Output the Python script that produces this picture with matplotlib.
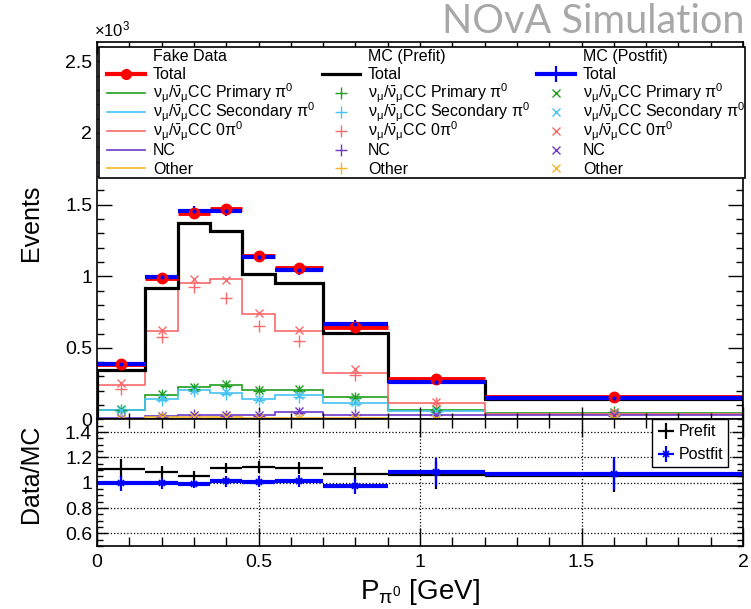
import matplotlib
matplotlib.use("Agg")
import matplotlib.pyplot as plt
from matplotlib.ticker import MultipleLocator, FuncFormatter
from matplotlib.patches import Rectangle
import numpy as np

plt.rcParams['font.family'] = ['Liberation Sans', 'DejaVu Sans']
plt.rcParams['mathtext.fontset'] = 'custom'
plt.rcParams['mathtext.rm'] = 'Liberation Sans'
plt.rcParams['mathtext.it'] = 'Liberation Sans:italic'
plt.rcParams['mathtext.bf'] = 'Liberation Sans:bold'

# binning in P_pi0 [GeV]
bin_edges = [0, 0.15, 0.25, 0.35, 0.45, 0.55, 0.7, 0.9, 1.2, 2.0]

# fake data, events per bin
fake_total = [385, 988, 1438, 1466, 1140, 1058, 646, 282, 156]
fake_primary = [68, 173, 226, 242, 203, 207, 154, 68, 47]
fake_secondary = [66, 145, 203, 184, 140, 168, 117, 56, 36]
fake_zeropi = [240, 620, 953, 984, 739, 620, 327, 112, 40]
fake_nc = [10, 23, 30, 28, 30, 49, 32, 33, 28]
fake_other = [6, 14, 15, 15, 12, 9, 8, 5, 4]

# MC prefit
pre_total = [348, 918, 1371, 1317, 1012, 953, 606, 268, 146]
pre_primary = [64, 170, 215, 236, 200, 198, 148, 66, 50]
pre_secondary = [62, 138, 196, 180, 136, 160, 110, 52, 34]
pre_zeropi = [214, 576, 925, 851, 650, 550, 308, 114, 38]
pre_nc = [8, 20, 28, 24, 26, 44, 28, 30, 26]
pre_other = [5, 12, 13, 12, 10, 8, 7, 5, 4]

# MC postfit
post_total = [388, 993, 1452, 1455, 1132, 1045, 664, 262, 147]
post_total_err = [20, 25, 41, 38, 35, 35, 33, 15, 12]
post_primary = [70, 180, 228, 246, 206, 210, 158, 72, 52]
post_secondary = [68, 150, 208, 190, 146, 172, 122, 58, 38]
post_zeropi = [257, 622, 984, 972, 746, 622, 350, 120, 42]
post_nc = [10, 24, 32, 28, 30, 56, 34, 34, 30]
post_other = [6, 14, 15, 15, 12, 9, 8, 5, 4]

# data / MC ratios
ratio_pre = [1.112, 1.083, 1.056, 1.115, 1.128, 1.115, 1.069, 1.06, 1.056]
ratio_pre_err = [0.076, 0.048, 0.035, 0.04, 0.047, 0.047, 0.057, 0.107, 0.127]
ratio_post = [0.995, 0.995, 0.99, 1.01, 1.008, 1.013, 0.973, 1.088, 1.072]
ratio_post_err = [0.06, 0.045, 0.035, 0.04, 0.045, 0.045, 0.06, 0.11, 0.13]

comp_names = [r"$\mathrm{\nu_{\mu}/\bar{\nu}_{\mu}}$CC Primary $\mathrm{\pi^{0}}$",
              r"$\mathrm{\nu_{\mu}/\bar{\nu}_{\mu}}$CC Secondary $\mathrm{\pi^{0}}$",
              r"$\mathrm{\nu_{\mu}/\bar{\nu}_{\mu}}$CC 0$\mathrm{\pi^{0}}$",
              "NC", "Other"]
comp_colors = ["#1f9e1f", "#45c2f2", "#fa6a6a", "#7038c8", "#f5b52a"]
headers = ["Fake Data", "MC (Prefit)", "MC (Postfit)"]

edges = np.array(bin_edges)
centers = 0.5 * (edges[:-1] + edges[1:])
half = 0.5 * np.diff(edges)

fake_comps = [fake_primary, fake_secondary, fake_zeropi, fake_nc, fake_other]
pre_comps = [pre_primary, pre_secondary, pre_zeropi, pre_nc, pre_other]
post_comps = [post_primary, post_secondary, post_zeropi, post_nc, post_other]

fig = plt.figure(figsize=(7.51, 6.09), dpi=100)
ax = fig.add_axes([0.1292, 0.3112, 0.8602, 0.6199])
rax = fig.add_axes([0.1292, 0.1034, 0.8602, 0.2078], sharex=ax)

# ---- main panel
for vals, col in zip(fake_comps, comp_colors):
    ax.stairs(vals, edges, color=col, lw=1.2)
for vals, col in zip(pre_comps, comp_colors):
    ax.plot(centers, vals, ls="none", marker="+", ms=8, mew=1.0, color=col)
for vals, col in zip(post_comps, comp_colors):
    ax.plot(centers, vals, ls="none", marker="x", ms=6, mew=1.0, color=col)

ax.stairs(pre_total, edges, color="black", lw=2.3)
ax.errorbar(centers, fake_total, xerr=half, fmt="o", color="red", ms=7.5,
            elinewidth=3.5, capsize=0)
ax.hlines(post_total, edges[:-1], edges[1:], color="blue", lw=3)
ax.errorbar(centers, post_total, yerr=post_total_err, fmt=".", color="blue",
            ms=4, elinewidth=1.6, capsize=0)

ax.set_xlim(0, 2)
ax.set_ylim(0, 2635)
ax.yaxis.set_major_locator(MultipleLocator(500))
ax.yaxis.set_minor_locator(MultipleLocator(100))
ax.yaxis.set_major_formatter(FuncFormatter(lambda v, p: f"{v/1000:g}"))
ax.xaxis.set_major_locator(MultipleLocator(0.5))
ax.xaxis.set_minor_locator(MultipleLocator(0.1))
ax.tick_params(axis="both", which="both", direction="in", top=True, right=True,
               labelbottom=False, labelsize=14, width=1)
ax.tick_params(axis="y", which="major", length=11)
ax.tick_params(axis="y", which="minor", length=5)
ax.tick_params(axis="x", which="major", length=8.6)
ax.tick_params(axis="x", which="minor", length=4.3)
ax.set_ylabel("Events", fontsize=18)
ax.yaxis.set_label_coords(-0.083, 0.52)
for s in ax.spines.values():
    s.set_linewidth(1.2)

# ---- three-column legend box (ROOT style, evenly spaced rows)
ax.add_patch(Rectangle((0.003, 0.6397), 1.0, 0.3471, transform=ax.transAxes,
                       facecolor="white", edgecolor="black", lw=1.2,
                       zorder=4, clip_on=False))
col_x = [0.0155, 0.348, 0.6807]
hl = 0.0588
row_y = 0.9656
row_step = 0.0501
base_off = 0.0148
kw = dict(transform=ax.transAxes, clip_on=False, zorder=5)
for c, x0 in enumerate(col_x):
    xt = x0 + 0.0712
    xm = x0 + hl / 2
    ax.text(xt, row_y - base_off, headers[c], fontsize=11.5, va="baseline", zorder=5,
            transform=ax.transAxes)
    y = row_y - row_step
    if c == 0:
        ax.plot([x0, x0 + hl], [y, y], color="red", lw=3, **kw)
        ax.plot([xm], [y], marker="o", ms=7, color="red", **kw)
    elif c == 1:
        ax.plot([x0, x0 + hl], [y, y], color="black", lw=2.3, **kw)
    else:
        ax.plot([x0, x0 + hl], [y, y], color="blue", lw=3, **kw)
        ax.plot([xm], [y], marker="|", ms=11, mew=1.6, color="blue", **kw)
    ax.text(xt, y - base_off, "Total", fontsize=11.5, va="baseline", zorder=5,
            transform=ax.transAxes)
    for i, (name, col) in enumerate(zip(comp_names, comp_colors)):
        y = row_y - (i + 2) * row_step
        if c == 0:
            ax.plot([x0, x0 + hl], [y, y], color=col, lw=1.2, **kw)
        elif c == 1:
            ax.plot([xm], [y], marker="+", ms=8, mew=1.0, color=col, **kw)
        else:
            ax.plot([xm], [y], marker="x", ms=6, mew=1.0, color=col, **kw)
        ax.text(xt, y - base_off, name, fontsize=11.5, va="baseline", zorder=5,
                transform=ax.transAxes)

fig.text(0.1252, 1 - 36 / 609, r"$\times$10$^{3}$", fontsize=12, va="baseline")
fig.text(744 / 751, 1 - 33 / 609, "NOvA Simulation", fontsize=28.5,
         family="Lato", color="#a8a8a8", ha="right", va="baseline")

# ---- ratio panel
rax.errorbar(centers, ratio_pre, xerr=half, yerr=ratio_pre_err, fmt="none",
             ecolor="black", elinewidth=1.6, capsize=0, label="Prefit")
rax.hlines(ratio_post, edges[:-1], edges[1:], color="blue", lw=3)
rax.errorbar(centers, ratio_post, xerr=half, yerr=ratio_post_err, fmt="x",
             color="blue", ms=5, mew=1.2, elinewidth=1.6, capsize=0,
             label="Postfit")

rax.set_ylim(0.5, 1.5)
rax.yaxis.set_major_locator(MultipleLocator(0.2))
rax.yaxis.set_minor_locator(MultipleLocator(0.05))
rax.yaxis.set_major_formatter(FuncFormatter(lambda v, p: f"{v:g}"))
rax.xaxis.set_major_formatter(FuncFormatter(lambda v, p: f"{v:g}"))
rax.grid(True, which="major", color="black", ls=":", lw=0.9)
rax.tick_params(axis="both", which="both", direction="in", top=True, right=True,
                labelsize=14, width=1)
rax.tick_params(axis="x", which="major", length=13, pad=6)
rax.tick_params(axis="x", which="minor", length=6.5)
rax.tick_params(axis="y", which="major", length=8)
rax.tick_params(axis="y", which="minor", length=4)
rax.set_ylabel("Data/MC", fontsize=18)
rax.yaxis.set_label_coords(-0.083, 0.571)
rax.set_xlabel(r"P$_{\mathrm{\pi^{0}}}$ [GeV]", fontsize=20)
for s in rax.spines.values():
    s.set_linewidth(1.2)

rleg = rax.legend(loc="upper right", bbox_to_anchor=(0.977, 1.0),
                  borderaxespad=0, fontsize=11.5, fancybox=False, framealpha=1,
                  edgecolor="black", handlelength=1.2, handletextpad=0.2,
                  borderpad=0.3)
rleg.get_frame().set_linewidth(1.0)

fig.savefig("out.png", dpi=100)
